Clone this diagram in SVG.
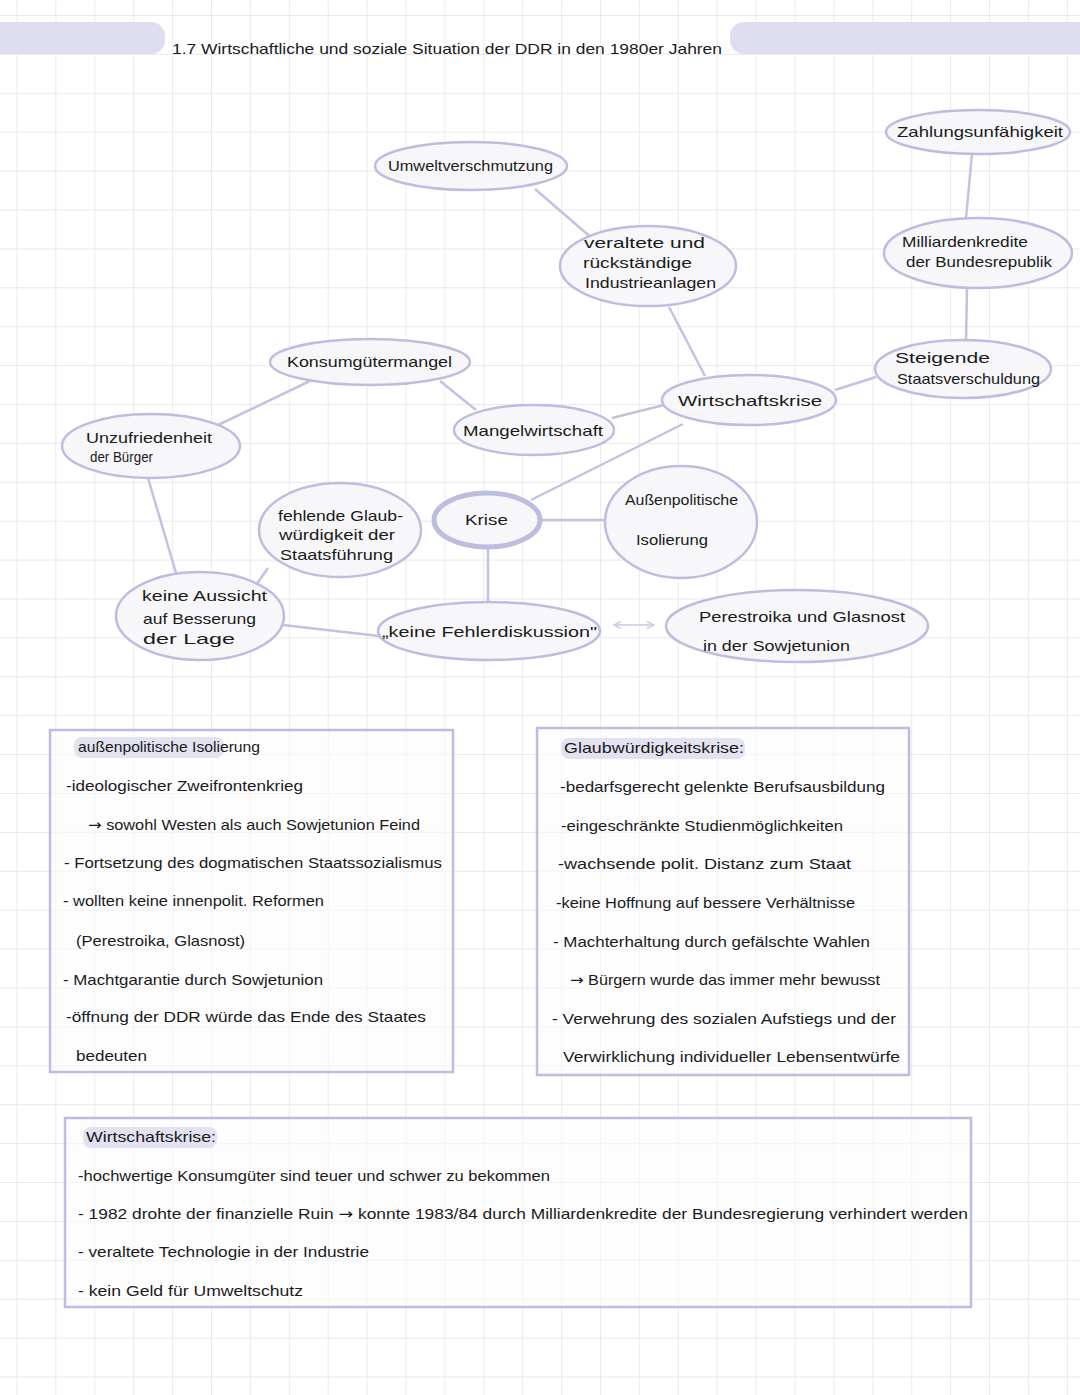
<svg xmlns="http://www.w3.org/2000/svg" width="1080" height="1395" viewBox="0 0 1080 1395">
<defs>
<style>
.node ellipse{fill:#f7f7fa;stroke:#bdbddf;stroke-width:2.5}
.t{font-family:"Liberation Sans",Arial,sans-serif;font-size:15px;fill:#1a1a1a}
.ar{font-family:"DejaVu Sans",sans-serif}
.conn line{stroke:#c2c2e2;stroke-width:2.5;fill:none}
.box{fill:#fbfbfd;fill-opacity:0.6;stroke:#bdbddf;stroke-width:2.5}
.hl{fill:#e2e2f1}
</style>
<pattern id="g" width="38.9" height="38.9" patternUnits="userSpaceOnUse" x="16.5" y="15">
<path d="M0 0H38.9M0 0V38.9" stroke="#e2e2e6" stroke-width="1.4" fill="none"/>
</pattern>
<marker id="ah" viewBox="0 0 10 10" refX="9" refY="5" markerWidth="9" markerHeight="9" orient="auto-start-reverse" markerUnits="userSpaceOnUse">
<path d="M1 1L9 5L1 9" fill="none" stroke="#c8c8e6" stroke-width="1.6"/>
</marker>
</defs>
<rect width="1080" height="1395" fill="#ffffff"/>
<rect width="1080" height="1395" fill="url(#g)"/>

<g id="title">
<rect x="-20" y="22" width="185" height="32" rx="14" fill="#dedef0"/>
<rect x="730" y="22" width="380" height="32" rx="14" fill="#dedef0"/>
<text class="t" x="172" y="54" font-size="17" textLength="550" lengthAdjust="spacingAndGlyphs">1.7 Wirtschaftliche und soziale Situation der DDR in den 1980er Jahren</text>
</g>

<g id="connectors" class="conn">
<line x1="535" y1="189" x2="594" y2="240"/>
<line x1="669" y1="307" x2="705" y2="376"/>
<line x1="972" y1="154" x2="966" y2="218"/>
<line x1="967" y1="288" x2="966" y2="340"/>
<line x1="876" y1="377" x2="835" y2="390"/>
<line x1="664" y1="405" x2="612" y2="418"/>
<line x1="440" y1="381" x2="476" y2="410"/>
<line x1="310" y1="381" x2="218" y2="425"/>
<line x1="148" y1="478" x2="176" y2="573"/>
<line x1="531" y1="500" x2="683" y2="424"/>
<line x1="540" y1="520" x2="605" y2="520"/>
<line x1="488" y1="548" x2="488" y2="602"/>
<line x1="256" y1="585" x2="268" y2="568"/>
<line x1="283" y1="625" x2="379" y2="636"/>
<line x1="614" y1="625" x2="654" y2="625" marker-start="url(#ah)" marker-end="url(#ah)" style="stroke:#c8c8e6;stroke-width:1.6"/>
</g>

<g id="n-umwelt" class="node"><ellipse cx="471" cy="166" rx="96" ry="24"/>
<text class="t" x="388" y="171" textLength="165" lengthAdjust="spacingAndGlyphs">Umweltverschmutzung</text></g>

<g id="n-zahlung" class="node"><ellipse cx="978" cy="132" rx="92" ry="22"/>
<text class="t" x="897" y="137" textLength="166" lengthAdjust="spacingAndGlyphs">Zahlungsunfähigkeit</text></g>

<g id="n-veraltet" class="node"><ellipse cx="648" cy="266" rx="88" ry="40"/>
<text class="t" x="584" y="248" textLength="121" lengthAdjust="spacingAndGlyphs">veraltete und</text>
<text class="t" x="583" y="268" textLength="109" lengthAdjust="spacingAndGlyphs">rückständige</text>
<text class="t" x="585" y="288" textLength="131" lengthAdjust="spacingAndGlyphs">Industrieanlagen</text></g>

<g id="n-milliarden" class="node"><ellipse cx="978" cy="253" rx="94" ry="35"/>
<text class="t" x="902" y="247" textLength="126" lengthAdjust="spacingAndGlyphs">Milliardenkredite</text>
<text class="t" x="906" y="267" textLength="146" lengthAdjust="spacingAndGlyphs">der Bundesrepublik</text></g>

<g id="n-konsum" class="node"><ellipse cx="370" cy="362" rx="100" ry="23"/>
<text class="t" x="287" y="367" textLength="165" lengthAdjust="spacingAndGlyphs">Konsumgütermangel</text></g>

<g id="n-steigende" class="node"><ellipse cx="963" cy="369" rx="88" ry="29"/>
<text class="t" x="895" y="363" font-size="17" textLength="95" lengthAdjust="spacingAndGlyphs">Steigende</text>
<text class="t" x="897" y="384" textLength="143" lengthAdjust="spacingAndGlyphs">Staatsverschuldung</text></g>

<g id="n-wirtschaftskrise" class="node"><ellipse cx="749" cy="400" rx="87" ry="25"/>
<text class="t" x="678" y="406" font-size="17" textLength="144" lengthAdjust="spacingAndGlyphs">Wirtschaftskrise</text></g>

<g id="n-mangel" class="node"><ellipse cx="534" cy="430" rx="80" ry="25"/>
<text class="t" x="463" y="436" textLength="140" lengthAdjust="spacingAndGlyphs">Mangelwirtschaft</text></g>

<g id="n-unzufrieden" class="node"><ellipse cx="151" cy="446" rx="89" ry="32"/>
<text class="t" x="86" y="443" textLength="126" lengthAdjust="spacingAndGlyphs">Unzufriedenheit</text>
<text class="t" x="90" y="462" textLength="63" lengthAdjust="spacingAndGlyphs">der Bürger</text></g>

<g id="n-glaub" class="node"><ellipse cx="340" cy="530" rx="81" ry="47"/>
<text class="t" x="278" y="521" textLength="125" lengthAdjust="spacingAndGlyphs">fehlende Glaub-</text>
<text class="t" x="279" y="540" textLength="116" lengthAdjust="spacingAndGlyphs">würdigkeit der</text>
<text class="t" x="280" y="560" textLength="113" lengthAdjust="spacingAndGlyphs">Staatsführung</text></g>

<g id="n-krise" class="node"><ellipse cx="487" cy="520" rx="53" ry="27" style="stroke-width:5"/>
<text class="t" x="465" y="525" textLength="43" lengthAdjust="spacingAndGlyphs">Krise</text></g>

<g id="n-aussen" class="node"><ellipse cx="681" cy="522" rx="76" ry="56"/>
<text class="t" x="625" y="505" textLength="113" lengthAdjust="spacingAndGlyphs">Außenpolitische</text>
<text class="t" x="636" y="545" textLength="72" lengthAdjust="spacingAndGlyphs">Isolierung</text></g>

<g id="n-aussicht" class="node"><ellipse cx="200" cy="616" rx="84" ry="44"/>
<text class="t" x="142" y="601" textLength="125" lengthAdjust="spacingAndGlyphs">keine Aussicht</text>
<text class="t" x="143" y="624" textLength="113" lengthAdjust="spacingAndGlyphs">auf Besserung</text>
<text class="t" x="143" y="644" textLength="92" lengthAdjust="spacingAndGlyphs">der Lage</text></g>

<g id="n-fehler" class="node"><ellipse cx="489" cy="631" rx="111" ry="29"/>
<text class="t" x="382" y="637" textLength="215" lengthAdjust="spacingAndGlyphs">„keine Fehlerdiskussion"</text></g>

<g id="n-perestroika" class="node"><ellipse cx="797" cy="626" rx="131" ry="36"/>
<text class="t" x="699" y="622" textLength="206" lengthAdjust="spacingAndGlyphs">Perestroika und Glasnost</text>
<text class="t" x="703" y="651" textLength="147" lengthAdjust="spacingAndGlyphs">in der Sowjetunion</text></g>

<g id="box-aussenpolitik">
<rect class="box" x="50" y="730" width="403" height="342"/>
<rect class="hl" x="74" y="737" width="150" height="21" rx="8"/>
<text class="t" x="78" y="752" textLength="182" lengthAdjust="spacingAndGlyphs">außenpolitische Isolierung</text>
<text class="t" x="66" y="791" textLength="237" lengthAdjust="spacingAndGlyphs">-ideologischer Zweifrontenkrieg</text>
<text class="t" x="88" y="830" textLength="332" lengthAdjust="spacingAndGlyphs"><tspan class="ar">→</tspan> sowohl Westen als auch Sowjetunion Feind</text>
<text class="t" x="64" y="868" textLength="378" lengthAdjust="spacingAndGlyphs">- Fortsetzung des dogmatischen Staatssozialismus</text>
<text class="t" x="63" y="906" textLength="261" lengthAdjust="spacingAndGlyphs">- wollten keine innenpolit. Reformen</text>
<text class="t" x="76" y="946" textLength="169" lengthAdjust="spacingAndGlyphs">(Perestroika, Glasnost)</text>
<text class="t" x="63" y="985" textLength="260" lengthAdjust="spacingAndGlyphs">- Machtgarantie durch Sowjetunion</text>
<text class="t" x="66" y="1022" textLength="360" lengthAdjust="spacingAndGlyphs">-öffnung der DDR würde das Ende des Staates</text>
<text class="t" x="76" y="1061" textLength="71" lengthAdjust="spacingAndGlyphs">bedeuten</text>
</g>

<g id="box-glaubwuerdigkeit">
<rect class="box" x="537" y="728" width="372" height="347"/>
<rect class="hl" x="561" y="738" width="184" height="21" rx="8"/>
<text class="t" x="564" y="753" textLength="180" lengthAdjust="spacingAndGlyphs">Glaubwürdigkeitskrise:</text>
<text class="t" x="560" y="792" textLength="325" lengthAdjust="spacingAndGlyphs">-bedarfsgerecht gelenkte Berufsausbildung</text>
<text class="t" x="561" y="831" textLength="282" lengthAdjust="spacingAndGlyphs">-eingeschränkte Studienmöglichkeiten</text>
<text class="t" x="558" y="869" textLength="293" lengthAdjust="spacingAndGlyphs">-wachsende polit. Distanz zum Staat</text>
<text class="t" x="556" y="908" textLength="299" lengthAdjust="spacingAndGlyphs">-keine Hoffnung auf bessere Verhältnisse</text>
<text class="t" x="553" y="947" textLength="317" lengthAdjust="spacingAndGlyphs">- Machterhaltung durch gefälschte Wahlen</text>
<text class="t" x="570" y="985" textLength="310" lengthAdjust="spacingAndGlyphs"><tspan class="ar">→</tspan> Bürgern wurde das immer mehr bewusst</text>
<text class="t" x="552" y="1024" textLength="344" lengthAdjust="spacingAndGlyphs">- Verwehrung des sozialen Aufstiegs und der</text>
<text class="t" x="563" y="1062" textLength="337" lengthAdjust="spacingAndGlyphs">Verwirklichung individueller Lebensentwürfe</text>
</g>

<g id="box-wirtschaftskrise">
<rect class="box" x="65" y="1118" width="906" height="189"/>
<rect class="hl" x="83" y="1127" width="134" height="21" rx="8"/>
<text class="t" x="86" y="1142" textLength="130" lengthAdjust="spacingAndGlyphs">Wirtschaftskrise:</text>
<text class="t" x="78" y="1181" textLength="472" lengthAdjust="spacingAndGlyphs">-hochwertige Konsumgüter sind teuer und schwer zu bekommen</text>
<text class="t" x="78" y="1219" textLength="890" lengthAdjust="spacingAndGlyphs">- 1982 drohte der finanzielle Ruin <tspan class="ar">→</tspan> konnte 1983/84 durch Milliardenkredite der Bundesregierung verhindert werden</text>
<text class="t" x="78" y="1257" textLength="291" lengthAdjust="spacingAndGlyphs">- veraltete Technologie in der Industrie</text>
<text class="t" x="78" y="1296" textLength="225" lengthAdjust="spacingAndGlyphs">- kein Geld für Umweltschutz</text>
</g>
</svg>
